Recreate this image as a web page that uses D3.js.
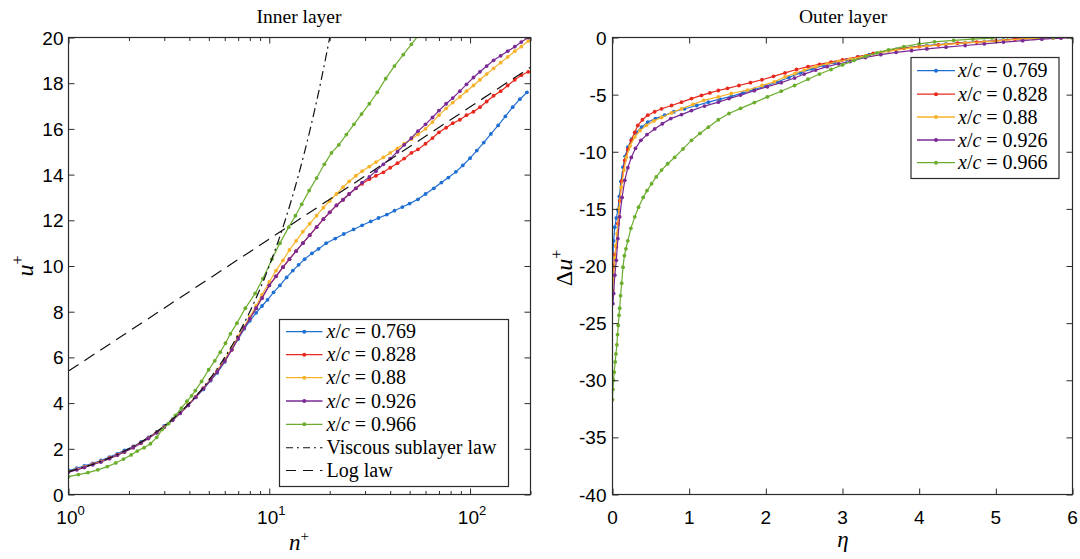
<!DOCTYPE html>
<html>
<head>
<meta charset="utf-8">
<script src="https://cdn.jsdelivr.net/npm/d3@7"></script>
<style>
body{margin:0;background:#fff}
svg{display:block}
.tl{font-family:"Liberation Sans",Arial,sans-serif;font-size:19px;fill:#000}
.ser{font-family:"Liberation Serif","Times New Roman",serif;fill:#000}
</style>
</head>
<body>
<svg id="fig" width="1080" height="559"></svg>
<script>
// ---- data ----
var stations = ['0.769', '0.828', '0.88', '0.926', '0.966']
var colors   = ['#1f6fd3', '#e8281c', '#f7b22a', '#7a2a95', '#6bad2d']

// inner layer: [n+, u+]
var innerBlue = [[1.0,1.05],[1.1,1.15],[1.2,1.25],[1.32,1.36],[1.45,1.49],[1.6,1.64],[1.75,1.78],[1.9,1.93],[2.1,2.1],[2.3,2.3],[2.5,2.5],[2.75,2.74],[3.0,3.0],[3.3,3.3],[3.6,3.6],[3.95,3.92],[4.3,4.25],[4.7,4.6],[5.1,4.98],[5.5,5.32],[6.0,5.8],[6.5,6.35],[7.0,6.8],[7.5,7.25],[8.0,7.6],[8.6,7.95],[9.2,8.25],[9.8,8.52],[10.5,8.85],[11.3,9.15],[12.2,9.5],[13.1,9.8],[14,10.05],[15,10.3],[16.3,10.55],[17.6,10.75],[19.2,11.0],[21.3,11.2],[23.5,11.4],[26.3,11.6],[29,11.78],[32,11.95],[35,12.1],[38.5,12.25],[42,12.42],[46,12.58],[50,12.73],[55,12.92],[60,13.15],[66,13.4],[72,13.65],[78,13.87],[85,14.12],[92,14.4],[100,14.72],[108,15.05],[117,15.4],[127,15.78],[138,16.15],[150,16.55],[163,16.95],[177,17.3],[192,17.6]]
var innerRed = [[1.0,1.0],[1.1,1.1],[1.2,1.2],[1.32,1.33],[1.45,1.45],[1.6,1.6],[1.75,1.74],[1.9,1.88],[2.1,2.07],[2.3,2.27],[2.5,2.47],[2.75,2.72],[3.0,2.97],[3.3,3.27],[3.6,3.57],[3.95,3.92],[4.3,4.27],[4.7,4.65],[5.1,5.02],[5.5,5.38],[6.0,5.85],[6.5,6.33],[7.0,6.85],[7.5,7.3],[8.0,7.7],[8.6,8.15],[9.2,8.6],[10,9.15],[10.8,9.55],[11.7,9.95],[12.6,10.3],[13.6,10.65],[14.7,11.0],[15.9,11.35],[17.2,11.7],[18.6,12.05],[20,12.35],[21.6,12.65],[23.3,12.9],[25,13.15],[27,13.4],[29,13.6],[31.5,13.8],[34,13.95],[37,14.1],[40,14.3],[43.5,14.5],[47,14.7],[51,14.95],[55,15.1],[60,15.35],[65,15.6],[70,15.85],[76,16.05],[82,16.25],[89,16.4],[96,16.6],[104,16.75],[112,16.95],[121,17.2],[131,17.45],[142,17.65],[154,17.9],[167,18.15],[180,18.35],[195,18.5]]
var innerYellow = [[1.0,1.0],[1.1,1.1],[1.2,1.2],[1.32,1.32],[1.45,1.44],[1.6,1.58],[1.75,1.72],[1.9,1.86],[2.1,2.05],[2.3,2.25],[2.5,2.46],[2.75,2.71],[3.0,2.96],[3.3,3.26],[3.6,3.57],[3.95,3.92],[4.3,4.28],[4.7,4.67],[5.1,5.05],[5.5,5.42],[6.0,5.9],[6.5,6.4],[7.0,6.92],[7.5,7.35],[8.0,7.78],[8.6,8.25],[9.2,8.75],[10,9.3],[10.8,9.8],[11.7,10.25],[12.6,10.7],[13.6,11.1],[14.7,11.5],[15.9,11.85],[17.2,12.2],[18.6,12.55],[20,12.85],[21.6,13.15],[23.3,13.45],[25,13.7],[27,13.95],[29,14.15],[31.5,14.35],[34,14.55],[37,14.75],[40,14.95],[43.5,15.15],[47,15.35],[51,15.55],[55,15.75],[60,16.0],[65,16.3],[70,16.6],[76,16.9],[82,17.15],[89,17.4],[96,17.65],[104,17.9],[112,18.15],[121,18.4],[131,18.65],[142,18.9],[154,19.15],[167,19.4],[180,19.6],[195,19.85]]
var innerPurple = [[1.0,0.98],[1.1,1.08],[1.2,1.18],[1.32,1.3],[1.45,1.42],[1.6,1.57],[1.75,1.72],[1.9,1.86],[2.1,2.05],[2.3,2.25],[2.5,2.45],[2.75,2.7],[3.0,2.95],[3.3,3.25],[3.6,3.55],[3.95,3.9],[4.3,4.26],[4.7,4.64],[5.1,5.02],[5.5,5.38],[6.0,5.85],[6.5,6.33],[7.0,6.85],[7.5,7.3],[8.0,7.7],[8.6,8.15],[9.2,8.6],[10,9.15],[10.8,9.55],[11.7,9.95],[12.6,10.3],[13.6,10.65],[14.7,11.0],[15.9,11.35],[17.2,11.7],[18.6,12.05],[20,12.35],[21.6,12.65],[23.3,12.9],[25,13.15],[27,13.4],[29,13.65],[31.5,13.9],[34,14.15],[37,14.45],[40,14.7],[43.5,15.0],[47,15.3],[51,15.6],[55,15.9],[60,16.2],[65,16.5],[70,16.8],[76,17.1],[82,17.35],[89,17.65],[96,17.95],[104,18.25],[112,18.5],[121,18.75],[131,19.0],[142,19.2],[154,19.4],[167,19.6],[180,19.8],[195,20.0]]
var innerGreen = [[1.0,0.78],[1.12,0.87],[1.25,0.96],[1.4,1.08],[1.56,1.22],[1.72,1.38],[1.88,1.55],[2.05,1.73],[2.2,1.9],[2.38,2.05],[2.56,2.22],[2.75,2.5],[2.93,2.85],[3.15,3.1],[3.41,3.46],[3.65,3.78],[3.89,4.08],[4.1,4.32],[4.28,4.55],[4.6,4.95],[4.99,5.46],[5.35,5.85],[5.7,6.23],[6.05,6.62],[6.4,7.03],[6.9,7.5],[7.6,8.15],[8.5,8.8],[9.3,9.45],[10.3,10.3],[11.3,11.0],[12.5,11.7],[13.5,12.2],[14.5,12.7],[15.8,13.3],[17.2,13.85],[18.8,14.45],[20.4,14.95],[22.2,15.3],[24.2,15.75],[26.4,16.2],[28.8,16.65],[31.5,17.1],[34.5,17.6],[38,18.2],[42,18.75],[46.5,19.25],[51,19.7],[56,20.15]]
var viscousLaw = [[1,1],[1.5,1.5],[2,2],[2.5,2.5],[3,3],[3.5,3.5],[4,4],[5,5],[6,6],[7,7],[8,8],[9,9],[10,10],[12,12],[14,14],[16,16],[18,18],[20,20]]
var logLaw = [[1,5.4],[200,18.7]]

// outer layer: [eta, delta u+]
var outerBlue = [[0.005,-19.3],[0.015,-17.8],[0.03,-16.6],[0.05,-15.8],[0.07,-15.1],[0.09,-13.9],[0.11,-12.6],[0.137,-11.35],[0.165,-10.4],[0.2,-9.6],[0.25,-8.9],[0.31,-8.3],[0.38,-7.85],[0.46,-7.4],[0.56,-7.1],[0.68,-6.8],[0.8,-6.5],[0.94,-6.24],[1.1,-5.95],[1.25,-5.66],[1.4,-5.4],[1.55,-5.15],[1.7,-4.85],[1.85,-4.55],[2.0,-4.25],[2.15,-3.9],[2.3,-3.5],[2.45,-3.1],[2.6,-2.75],[2.75,-2.45],[2.9,-2.2],[3.05,-1.95],[3.2,-1.7],[3.35,-1.5],[3.5,-1.3],[3.7,-1.05],[3.9,-0.85],[4.1,-0.7],[4.35,-0.55],[4.6,-0.45],[4.85,-0.35],[5.1,-0.2],[5.35,-0.1],[5.6,-0.05],[5.85,0],[6.0,0]]
var outerRed = [[0.005,-21.0],[0.015,-20.0],[0.03,-19.0],[0.05,-18.3],[0.07,-16.3],[0.094,-14.3],[0.12,-12.6],[0.16,-10.76],[0.2,-9.8],[0.245,-9.0],[0.29,-8.3],[0.33,-7.7],[0.39,-7.2],[0.46,-6.8],[0.55,-6.5],[0.64,-6.24],[0.77,-5.95],[0.9,-5.66],[1.03,-5.35],[1.16,-5.07],[1.27,-4.85],[1.38,-4.64],[1.5,-4.45],[1.65,-4.2],[1.8,-3.95],[1.95,-3.7],[2.1,-3.4],[2.25,-3.1],[2.4,-2.8],[2.55,-2.55],[2.7,-2.35],[2.85,-2.15],[3.0,-1.95],[3.2,-1.7],[3.4,-1.4],[3.6,-1.15],[3.8,-0.95],[4.0,-0.8],[4.25,-0.65],[4.5,-0.5],[4.75,-0.4],[5.0,-0.3],[5.25,-0.15],[5.5,-0.08],[5.75,-0.02],[6.0,0]]
var outerYellow = [[0.005,-22.1],[0.015,-20.8],[0.03,-19.3],[0.045,-18.2],[0.06,-17.2],[0.085,-15.0],[0.115,-13.1],[0.15,-11.6],[0.18,-10.5],[0.23,-9.5],[0.29,-8.7],[0.36,-8.15],[0.44,-7.7],[0.54,-7.3],[0.64,-7.0],[0.77,-6.6],[0.9,-6.24],[1.05,-5.85],[1.19,-5.5],[1.38,-5.2],[1.55,-4.9],[1.76,-4.6],[1.95,-4.2],[2.11,-3.88],[2.25,-3.45],[2.38,-3.15],[2.5,-2.85],[2.65,-2.55],[2.8,-2.3],[2.95,-2.1],[3.1,-1.9],[3.3,-1.6],[3.5,-1.3],[3.7,-1.1],[3.9,-0.9],[4.1,-0.75],[4.35,-0.6],[4.6,-0.48],[4.85,-0.38],[5.1,-0.25],[5.35,-0.12],[5.6,-0.05],[5.85,-0.02],[6.0,0]]
var outerPurple = [[0.005,-23.3],[0.015,-22.4],[0.03,-20.8],[0.05,-19.5],[0.07,-17.6],[0.094,-15.7],[0.125,-14.0],[0.16,-12.5],[0.2,-11.4],[0.245,-10.5],[0.3,-9.7],[0.37,-9.0],[0.45,-8.5],[0.55,-8.0],[0.65,-7.55],[0.76,-7.1],[0.9,-6.75],[1.03,-6.4],[1.2,-6.0],[1.38,-5.66],[1.52,-5.35],[1.67,-5.04],[1.85,-4.65],[2.02,-4.31],[2.2,-3.95],[2.375,-3.55],[2.5,-3.2],[2.65,-2.85],[2.8,-2.55],[2.95,-2.3],[3.1,-2.1],[3.3,-1.75],[3.5,-1.5],[3.7,-1.3],[3.9,-1.15],[4.1,-1.0],[4.35,-0.85],[4.6,-0.7],[4.85,-0.55],[5.1,-0.4],[5.35,-0.28],[5.6,-0.15],[5.85,-0.05],[6.0,0]]
var outerGreen = [[0.0,-31.7],[0.005,-30.8],[0.013,-30.0],[0.022,-29.3],[0.035,-28.4],[0.045,-27.7],[0.057,-26.9],[0.066,-26.0],[0.075,-25.2],[0.085,-24.3],[0.094,-23.7],[0.105,-22.6],[0.12,-21.5],[0.137,-20.1],[0.155,-19.1],[0.175,-18.5],[0.2,-17.8],[0.24,-16.7],[0.29,-15.7],[0.34,-14.85],[0.4,-14.0],[0.45,-13.4],[0.51,-12.8],[0.57,-12.2],[0.64,-11.6],[0.72,-11.05],[0.81,-10.5],[0.92,-9.75],[1.03,-9.0],[1.14,-8.4],[1.25,-7.85],[1.38,-7.2],[1.52,-6.65],[1.67,-6.2],[1.85,-5.7],[2.02,-5.2],[2.2,-4.7],[2.375,-4.2],[2.55,-3.65],[2.7,-3.2],[2.85,-2.8],[3.0,-2.4],[3.15,-2.0],[3.3,-1.65],[3.45,-1.35],[3.6,-1.08],[3.8,-0.8],[4.0,-0.55],[4.2,-0.38],[4.45,-0.25],[4.7,-0.15],[4.95,-0.05],[5.15,0.05],[5.35,0.15],[5.55,0.05],[5.75,0.0],[6.0,0.0]]

var innerYTicks  = [0,2,4,6,8,10,12,14,16,18,20]
var innerXMajor  = [1,10,100]
var innerXMinor  = [2,3,4,5,6,7,8,9,20,30,40,50,60,70,80,90,200]
var outerYTicks  = [0,-5,-10,-15,-20,-25,-30,-35,-40]
var outerXTicks  = [0,1,2,3,4,5,6]

var innerSeries = [innerBlue, innerRed, innerYellow, innerPurple, innerGreen]
var outerSeries = [outerBlue, outerRed, outerYellow, outerPurple, outerGreen]

var svg = d3.select('#fig')
var axcol = '#2b2b2b'

function MakePanel(id, x, y){
    var xr = x.range(), yr = y.range()
    var g = svg.append('g').attr('id', id)
    g.append('clipPath').attr('id', 'clip-'+id)
	.append('rect')
	.attr('x', xr[0]).attr('y', yr[1])
	.attr('width', xr[1]-xr[0]).attr('height', yr[0]-yr[1])
    var plot = g.append('g').attr('clip-path', 'url(#clip-'+id+')')
    return {g: g, plot: plot}
}

function Ticks(g, axis, tx, ty, size){
    g.append('g')
	.attr('transform', 'translate('+tx+','+ty+')')
	.call(axis.tickSize(size).tickFormat(''))
	.call(function(s){
	    s.select('.domain').remove()
	    s.selectAll('.tick line').attr('stroke', axcol).attr('stroke-width', 1)
	})
}

function DrawSeries(plot, x, y, data, color){
    var line = d3.line()
	.x(function(d){return x(d[0])})
	.y(function(d){return y(d[1])})
    plot.append('path')
	.datum(data)
	.attr('d', line)
	.attr('fill', 'none')
	.attr('stroke', color)
	.attr('stroke-width', 1.2)
    plot.append('g').selectAll('circle')
	.data(data).enter().append('circle')
	.attr('cx', function(d){return x(d[0])})
	.attr('cy', function(d){return y(d[1])})
	.attr('r', 1.9)
	.attr('fill', color)
}

function Legend(g, bx, by, bw, bh, rowY, lx0, lx1, tx, entries){
    g.append('rect')
	.attr('x', bx).attr('y', by).attr('width', bw).attr('height', bh)
	.attr('fill', '#fff').attr('stroke', axcol).attr('stroke-width', 1.2)
    entries.forEach(function(e, i){
	var yy = rowY[i]
	var ln = g.append('line')
	    .attr('x1', lx0).attr('x2', lx1).attr('y1', yy).attr('y2', yy)
	    .attr('stroke', e.color).attr('stroke-width', e.marker ? 1.3 : 1.1)
	if(e.dash) ln.attr('stroke-dasharray', e.dash)
	if(e.marker)
	    g.append('circle').attr('cx', (lx0+lx1)/2).attr('cy', yy).attr('r', 2).attr('fill', e.color)
	var t = g.append('text').attr('class', 'ser').attr('x', tx).attr('y', yy+6.5).style('font-size', '20px')
	if(e.station){
	    t.append('tspan').style('font-style', 'italic').text('x')
	    t.append('tspan').text('/')
	    t.append('tspan').style('font-style', 'italic').text('c')
	    t.append('tspan').text(' = ' + e.station)
	}else{
	    t.text(e.label)
	}
    })
}

// ---------- Inner layer ----------
var xi = d3.scaleLog().domain([1, 200]).range([68.5, 530.5])
var yi = d3.scaleLinear().domain([0, 20]).range([494.5, 37.5])
var pi = MakePanel('inner', xi, yi)

innerSeries.forEach(function(s, i){ DrawSeries(pi.plot, xi, yi, s, colors[i]) })

var lawLine = d3.line().x(function(d){return xi(d[0])}).y(function(d){return yi(d[1])}).curve(d3.curveMonotoneX)
pi.plot.append('path').datum(viscousLaw).attr('d', lawLine)
    .attr('fill', 'none').attr('stroke', '#111').attr('stroke-width', 1.2).attr('stroke-dasharray', '9,4,2,4')
pi.plot.append('path').datum(logLaw).attr('d', d3.line().x(function(d){return xi(d[0])}).y(function(d){return yi(d[1])}))
    .attr('fill', 'none').attr('stroke', '#111').attr('stroke-width', 1.2).attr('stroke-dasharray', '12,7')

Ticks(pi.g, d3.axisBottom(xi).tickValues(innerXMajor), 0, yi.range()[0], -6)
Ticks(pi.g, d3.axisBottom(xi).tickValues(innerXMinor), 0, yi.range()[0], -3.5)
Ticks(pi.g, d3.axisTop(xi).tickValues(innerXMajor), 0, yi.range()[1], -6)
Ticks(pi.g, d3.axisTop(xi).tickValues(innerXMinor), 0, yi.range()[1], -3.5)
Ticks(pi.g, d3.axisLeft(yi).tickValues(innerYTicks), xi.range()[0], 0, -6)
Ticks(pi.g, d3.axisRight(yi).tickValues(innerYTicks), xi.range()[1], 0, -6)

pi.g.append('rect')
    .attr('x', xi.range()[0]).attr('y', yi.range()[1])
    .attr('width', xi.range()[1]-xi.range()[0]).attr('height', yi.range()[0]-yi.range()[1])
    .attr('fill', 'none').attr('stroke', axcol).attr('stroke-width', 1.2)

pi.g.selectAll('.ytl').data(innerYTicks).enter().append('text')
    .attr('class', 'tl').attr('text-anchor', 'end')
    .attr('x', xi.range()[0]-5).attr('y', function(d){return yi(d)+7})
    .text(function(d){return d})
pi.g.selectAll('.xtl').data(innerXMajor).enter().append('text')
    .attr('class', 'tl').attr('text-anchor', 'middle')
    .attr('x', function(d){return xi(d)+2}).attr('y', 524)
    .each(function(d){
	var t = d3.select(this)
	t.append('tspan').text('10')
	t.append('tspan').attr('dy', -9).style('font-size', '13px').text(Math.round(Math.log10(d)))
    })

pi.g.append('text').attr('class', 'ser').attr('x', 299).attr('y', 23)
    .attr('text-anchor', 'middle').style('font-size', '19.5px').text('Inner layer')
var nl = pi.g.append('text').attr('class', 'ser').attr('x', 299).attr('y', 550)
    .attr('text-anchor', 'middle').style('font-size', '23px')
nl.append('tspan').style('font-style', 'italic').text('n')
nl.append('tspan').attr('dy', -9).style('font-size', '15px').text('+')
var ul = pi.g.append('text').attr('class', 'ser')
    .attr('transform', 'translate(33,266) rotate(-90)')
    .attr('text-anchor', 'middle').style('font-size', '24px')
ul.append('tspan').style('font-style', 'italic').text('u')
ul.append('tspan').attr('dy', -10).style('font-size', '16px').text('+')

var innerEntries = stations.map(function(s, i){ return {station: s, color: colors[i], marker: true} })
innerEntries.push({label: 'Viscous sublayer law', color: '#111', dash: '7,4,2,4'})
innerEntries.push({label: 'Log law', color: '#111', dash: '10,7'})
Legend(pi.g, 279.5, 319.5, 229, 167, [331.7,354.7,377.7,401,424.3,447.7,470.5], 286, 322.5, 326.5, innerEntries)

// ---------- Outer layer ----------
var xo = d3.scaleLinear().domain([0, 6]).range([612.5, 1072.5])
var yo = d3.scaleLinear().domain([-40, 0]).range([494.5, 37.5])
var po = MakePanel('outer', xo, yo)

outerSeries.forEach(function(s, i){ DrawSeries(po.plot, xo, yo, s, colors[i]) })

Ticks(po.g, d3.axisBottom(xo).tickValues(outerXTicks), 0, yo.range()[0], -6)
Ticks(po.g, d3.axisTop(xo).tickValues(outerXTicks), 0, yo.range()[1], -6)
Ticks(po.g, d3.axisLeft(yo).tickValues(outerYTicks), xo.range()[0], 0, -6)
Ticks(po.g, d3.axisRight(yo).tickValues(outerYTicks), xo.range()[1], 0, -6)

po.g.append('rect')
    .attr('x', xo.range()[0]).attr('y', yo.range()[1])
    .attr('width', xo.range()[1]-xo.range()[0]).attr('height', yo.range()[0]-yo.range()[1])
    .attr('fill', 'none').attr('stroke', axcol).attr('stroke-width', 1.2)

po.g.selectAll('.ytl').data(outerYTicks).enter().append('text')
    .attr('class', 'tl').attr('text-anchor', 'end')
    .attr('x', xo.range()[0]-6).attr('y', function(d){return yo(d)+7})
    .text(function(d){return d})
po.g.selectAll('.xtl').data(outerXTicks).enter().append('text')
    .attr('class', 'tl').attr('text-anchor', 'middle')
    .attr('x', function(d){return xo(d)}).attr('y', 524)
    .text(function(d){return d})

po.g.append('text').attr('class', 'ser').attr('x', 843).attr('y', 23)
    .attr('text-anchor', 'middle').style('font-size', '19.5px').text('Outer layer')
po.g.append('text').attr('class', 'ser').attr('x', 843).attr('y', 547)
    .attr('text-anchor', 'middle').style('font-size', '23px').style('font-style', 'italic').text('η')
var dl = po.g.append('text').attr('class', 'ser')
    .attr('transform', 'translate(572,268) rotate(-90)')
    .attr('text-anchor', 'middle').style('font-size', '24px')
dl.append('tspan').text('Δ')
dl.append('tspan').style('font-style', 'italic').text('u')
dl.append('tspan').attr('dy', -10).style('font-size', '16px').text('+')

var outerEntries = stations.map(function(s, i){ return {station: s, color: colors[i], marker: true} })
Legend(po.g, 911, 57.5, 148, 121, [70.7,94.2,117,140,162.7], 917, 955, 958, outerEntries)
</script>
</body>
</html>
